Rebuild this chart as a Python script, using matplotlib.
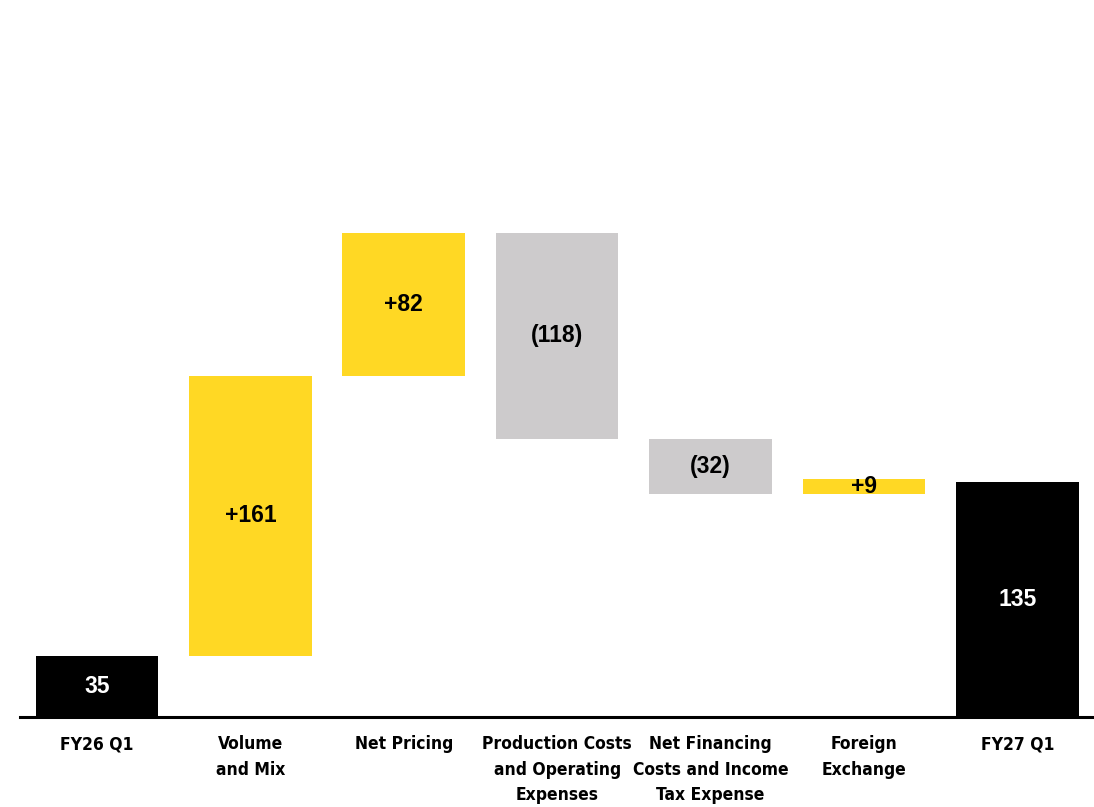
import matplotlib.pyplot as plt
import numpy as np

categories = ["FY26 Q1", "Volume\nand Mix", "Net Pricing",
              "Production Costs\nand Operating\nExpenses",
              "Net Financing\nCosts and Income\nTax Expense",
              "Foreign\nExchange", "FY27 Q1"]
changes = [35, 161, 82, -118, -32, 9, 135]
kinds = ["total", "delta", "delta", "delta", "delta", "delta", "total"]

YELLOW = "#FFD824"
GREY = "#CDCBCC"
BLACK = "#000000"

fig = plt.figure(figsize=(10.94, 8.07), dpi=100)
ax = fig.add_axes([20.25 / 1094, 90 / 807, 1 - 20.25 / 1094, 717 / 807])

x = np.arange(len(categories))
bottoms, heights, colors, labels = [], [], [], []
running = 0
for val, kind in zip(changes, kinds):
    if kind == "total":
        bottoms.append(0)
        heights.append(val)
        colors.append(BLACK)
        labels.append(f"{val}")
        running = val
    else:
        if val >= 0:
            bottoms.append(running)
            colors.append(YELLOW)
            labels.append(f"+{val}")
        else:
            bottoms.append(running + val)
            colors.append(GREY)
            labels.append(f"({-val})")
        heights.append(abs(val))
        running += val

ax.bar(x, heights, bottom=bottoms, width=0.8, color=colors, linewidth=0)

for xi, b, h, lab, c in zip(x, bottoms, heights, labels, colors):
    ax.text(xi, b + h / 2, lab, ha="center", va="center",
            fontsize=16.5, fontweight="bold", family="Liberation Sans",
            color="white" if c == BLACK else "black")

ax.set_xlim(-0.5, 6.5)
ax.set_ylim(0, 412)
ax.axhline(0, color="black", linewidth=2.2, clip_on=False)

for s in ax.spines.values():
    s.set_visible(False)
ax.set_yticks([])
ax.set_xticks(x)
ax.set_xticklabels(categories, fontsize=12.5, fontweight="bold",
                   family="DejaVu Sans", fontstretch="condensed",
                   linespacing=1.55)
ax.tick_params(axis="x", length=0, pad=13)

fig.savefig("out.png", dpi=100)
